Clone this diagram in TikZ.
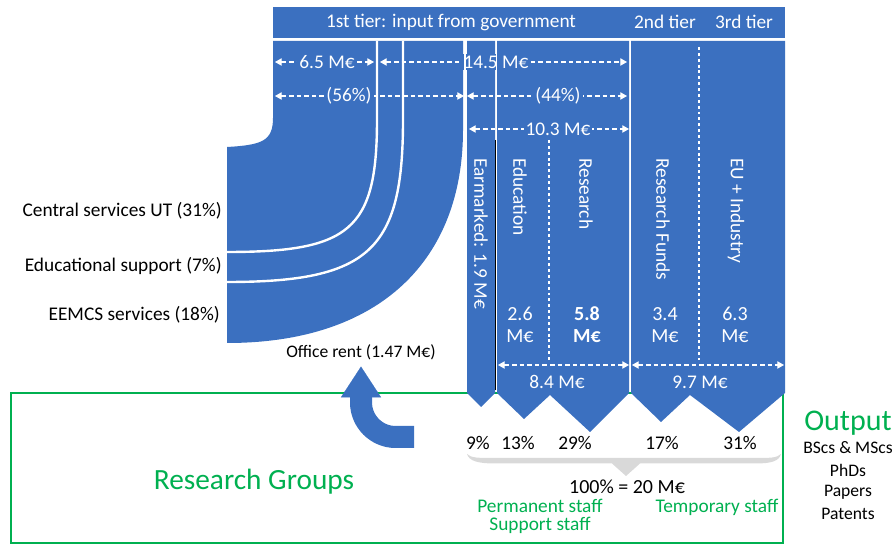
\documentclass[tikz,border=0pt]{standalone}
\usepackage{fontspec}
\setmainfont{Carlito}
\usetikzlibrary{arrows.meta}

\definecolor{ublue}{RGB}{59,112,192}
\definecolor{ugreen}{RGB}{0,176,80}
\definecolor{ugray}{RGB}{217,217,217}

\begin{document}
\begin{tikzpicture}[x=0.75pt,y=-0.75pt,
  every node/.style={inner sep=0pt, font=\fontsize{14.5}{17}\selectfont},
  wtxt/.style={text=white},
  dimtxt/.style={text=white, fill=ublue, inner sep=1.5pt},
  gtxt/.style={text=ugreen},
  smalltxt/.style={font=\fontsize{13.2}{15}\selectfont},
  dimline/.style={white, line width=0.8pt, dash pattern=on 3.5pt off 2.2pt,
    {Triangle[length=5pt,width=5.5pt]}-{Triangle[length=5pt,width=5.5pt]}},
  dotline/.style={white, line width=1.4pt, dash pattern=on 2.2pt off 2.2pt},
  sepline/.style={white, line width=1.8pt},
  vlabel/.style={text=white, rotate=-90, anchor=west},
  amount/.style={text=white, align=center, font=\fontsize{15}{16.5}\selectfont}]
\useasboundingbox (0,0) rectangle (894,545);
\draw [ugreen, line width=2.2pt] (11,393) rectangle (783,543);
\fill [ublue] (273,7) rectangle (785,38);
\node [wtxt] (tier1) at (451,22) {1st tier: input from government};
\node [wtxt] (tier2) at (665,22) {2nd tier};
\node [wtxt] (tier3) at (744,22) {3rd tier};
\fill [ublue] (273,41) -- (463,41) -- (463,130) .. controls (463,260) and (380,343) .. (227,343) -- (227,147) .. controls (262,145) and (273,141) .. (273,118) -- cycle;
\draw [sepline] (377,41) -- (377,120) .. controls (377,230) and (350,252) .. (227,252);
\draw [sepline] (403,41) -- (403,120) .. controls (403,250) and (370,282) .. (227,282);
\fill [ublue] (467,41) -- (495,41) -- (495,393) -- (481,407) -- (467,393) -- cycle;
\fill [ublue] (497,41) -- (629,41) -- (629,393) -- (590,432) -- (550,395) -- (524,419) -- (497,393) -- cycle;
\fill [ublue] (631,41) -- (785,41) -- (785,393) -- (739,432) -- (690,395) -- (661,422) -- (631,393) -- cycle;
\draw [black, line width=0.5pt] (495.6,140) -- (495.6,390);
\draw [dotline] (549,140) -- (549,360);
\draw [dotline] (699,47) -- (699,360);
\coordinate (a1) at (275,62);
\coordinate (b1) at (374,62);
\coordinate (a2) at (380,62);
\coordinate (b2) at (627,62);
\coordinate (a3) at (275,96);
\coordinate (b3) at (464,96);
\coordinate (a4) at (467,96);
\coordinate (b4) at (627,96);
\coordinate (a5) at (469,129);
\coordinate (b5) at (629,129);
\coordinate (a6) at (498,365);
\coordinate (b6) at (629,365);
\coordinate (a7) at (632,365);
\coordinate (b7) at (784,365);
\draw [dimline] (a1) -- (b1);
\draw [dimline] (a2) -- (b2);
\draw [dimline] (a3) -- (b3);
\draw [dimline] (a4) -- (b4);
\draw [dimline] (a5) -- (b5);
\draw [dimline] (a6) -- (b6);
\draw [dimline] (a7) -- (b7);
\node [dimtxt] (m65) at (327,62) {6.5 M€};
\node [dimtxt] (m145) at (496,62) {14.5 M€};
\node [dimtxt] (p56) at (349,96) {(56\%)};
\node [dimtxt] (p44) at (558,96) {(44\%)};
\node [dimtxt] (m103) at (558,129) {10.3 M€};
\draw [white, line width=2pt] (465,41) -- (465,118);
\draw [white, line width=1pt] (496.5,41) -- (496.5,140);
\node [wtxt] (m84) at (557,382) {8.4 M€};
\node [wtxt] (m97) at (700,382) {9.7 M€};
\node [vlabel] (earm) at (481,158) {Earmarked: 1.9 M€};
\node [vlabel] (educ) at (520,158) {Education};
\node [vlabel] (rese) at (586,158) {Research};
\node [vlabel] (rfund) at (663,158) {Research Funds};
\node [vlabel] (euind) at (736,158) {EU + Industry};
\node [amount] (m26) at (520,325) {2.6\\M€};
\node [amount] (m58) at (587,325) {\textbf{5.8}\\\textbf{M€}};
\node [amount] (m34) at (665,325) {3.4\\M€};
\node [amount] (m63) at (735,325) {6.3\\M€};
\node [anchor=east] (cserv) at (222,211) {Central services UT (31\%)};
\node [anchor=east] (esupp) at (222,266) {Educational support (7\%)};
\node [anchor=east] (eserv) at (220,315) {EEMCS services (18\%)};
\node [smalltxt] (rent) at (361,352) {Office rent (1.47 M€)};
\coordinate (arrs) at (414,437);
\draw [ublue, line width=16.5pt, rounded corners=26pt, shorten >=5pt,
  -{Triangle[length=23pt,width=30pt,line width=0.1pt]}] (arrs) -| (rent.south);
\node (q9) at (478,443) {9\%};
\node (q13) at (518,443) {13\%};
\node (q29) at (575,443) {29\%};
\node (q17) at (662,443) {17\%};
\node (q31) at (740,443) {31\%};
\fill [ugray] (467,454) .. controls (469,461) and (478,463.5) .. (495,463.5) -- (612,463.5) -- (626,476) -- (640,463.5) -- (755,463.5) .. controls (772,463.5) and (779,461) .. (781,454) .. controls (777,458) and (770,458) .. (755,458) -- (495,458) .. controls (478,458) and (471,458) .. (467,454) -- cycle;
\node [font=\fontsize{15}{17}\selectfont] (total) at (627,487) {100\% = 20 M€};
\node [gtxt, align=center, font=\fontsize{14.5}{13.5}\selectfont] (perm) at (540,516) {Permanent staff\\Support staff};
\node [gtxt] (temp) at (717,507) {Temporary staff};
\node [gtxt, font=\fontsize{22}{25}\selectfont] (rgroups) at (254,482) {Research Groups};
\node [gtxt, font=\fontsize{22.5}{25}\selectfont] (output) at (848,423) {Output};
\node [smalltxt] (o1) at (848,448) {BScs \& MScs};
\node [smalltxt] (o2) at (848,470) {PhDs};
\node [smalltxt] (o3) at (848,492) {Papers};
\node [smalltxt] (o4) at (848,514) {Patents};
\end{tikzpicture}
\end{document}
